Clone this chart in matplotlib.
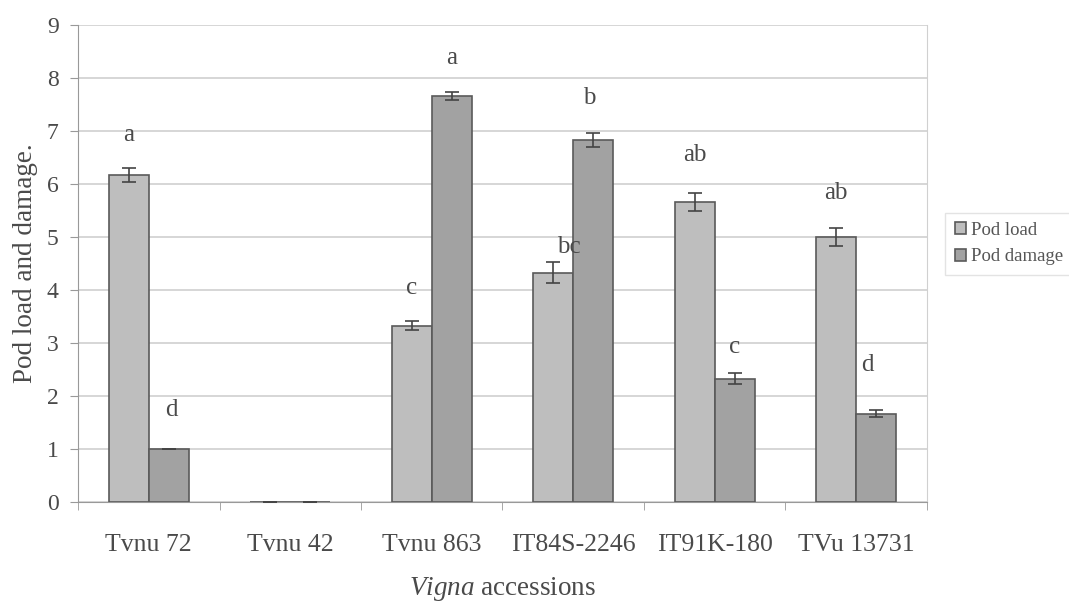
import numpy as np
import matplotlib.pyplot as plt

plt.rcParams['font.family'] = ['Liberation Serif', 'DejaVu Serif']
plt.rcParams['mathtext.fontset'] = 'custom'
plt.rcParams['mathtext.it'] = 'Liberation Serif:italic'
plt.rcParams['mathtext.rm'] = 'Liberation Serif'

# data
accessions = ['Tvnu 72', 'Tvnu 42', 'Tvnu 863', 'IT84S-2246', 'IT91K-180', 'TVu 13731']
pod_load = [6.17, 0.0, 3.33, 4.33, 5.67, 5.0]
pod_load_err = [0.13, 0.0, 0.08, 0.2, 0.17, 0.17]
pod_damage = [1.0, 0.0, 7.67, 6.83, 2.33, 1.67]
pod_damage_err = [0.0, 0.0, 0.08, 0.13, 0.1, 0.06]
load_letters = ['a', '', 'c', 'bc', 'ab', 'ab']
damage_letters = ['d', '', 'a', 'b', 'c', 'd']
# where the letters sit (height, and small sideways nudge)
load_letter_y = [6.92, 0, 4.04, 4.81, 6.55, 5.83]
load_letter_dx = [0, 0, 0, 0.11, 0, 0]
damage_letter_y = [1.74, 0, 8.38, 7.62, 2.92, 2.58]
damage_letter_dx = [0.02, 0, 0, -0.03, 0, -0.06]

load_col = '#bebebe'
damage_col = '#a2a2a2'
edge_col = '#5a5a5a'
txt_col = '#4a4a4a'

fig = plt.figure(figsize=(10.69, 6.02), dpi=100)
ax = fig.add_axes([0.073, 0.166, 0.794, 0.792])

x = np.arange(len(accessions))
w = 0.283

ax.bar(x - w / 2, pod_load, w, color=load_col, edgecolor=edge_col, linewidth=1.2,
       label='Pod load', zorder=3)
ax.bar(x + w / 2, pod_damage, w, color=damage_col, edgecolor=edge_col, linewidth=1.2,
       label='Pod damage', zorder=3)
ax.errorbar(x - w / 2, pod_load, yerr=pod_load_err, fmt='none', ecolor='#444444',
            elinewidth=1.2, capsize=5, capthick=1.2, zorder=4)
ax.errorbar(x + w / 2, pod_damage, yerr=pod_damage_err, fmt='none', ecolor='#444444',
            elinewidth=1.2, capsize=5, capthick=1.2, zorder=4)

# significance letters
for i in range(len(accessions)):
    ax.text(x[i] - w / 2 + load_letter_dx[i], load_letter_y[i], load_letters[i],
            ha='center', va='center', fontsize=18, color=txt_col, zorder=5)
    ax.text(x[i] + w / 2 + damage_letter_dx[i], damage_letter_y[i], damage_letters[i],
            ha='center', va='center', fontsize=18, color=txt_col, zorder=5)

ax.set_xlim(-0.5, len(accessions) - 0.5)
ax.set_ylim(0, 9)
ax.set_yticks(range(10))
ax.set_xticks(x)
ax.set_xticklabels(accessions)
ax.set_xticks(np.arange(-0.5, len(accessions), 1), minor=True)
ax.tick_params(axis='x', which='major', length=0, pad=23, labelsize=18.5, labelcolor=txt_col)
ax.tick_params(axis='x', which='minor', length=6, color='#999999')
ax.tick_params(axis='y', length=6, color='#999999', labelsize=17, labelcolor=txt_col, pad=8)

ax.grid(axis='y', color='#d0d0d0', linewidth=1.2, zorder=0)
ax.spines['top'].set_visible(False)
ax.spines['right'].set_color('#d0d0d0')
ax.spines['left'].set_color('#999999')
ax.spines['bottom'].set_color('#999999')

ax.set_ylabel('Pod load and damage.', fontsize=19.5, color=txt_col, labelpad=6)
ax.set_xlabel(r'$\mathit{Vigna}$ accessions', fontsize=19.5, color=txt_col, va='center')
ax.xaxis.set_label_coords(0.5, -0.182)

leg = ax.legend(loc='center left', bbox_to_anchor=(1.022, 0.542), fontsize=13.5,
                frameon=True, handlelength=0.6, handleheight=0.6, handletextpad=0.25,
                borderpad=0.5, labelspacing=0.5, fancybox=False, borderaxespad=0)
leg.get_frame().set_edgecolor('#dddddd')
for t in leg.get_texts():
    t.set_color('#555555')

plt.savefig('out.png', dpi=100)
